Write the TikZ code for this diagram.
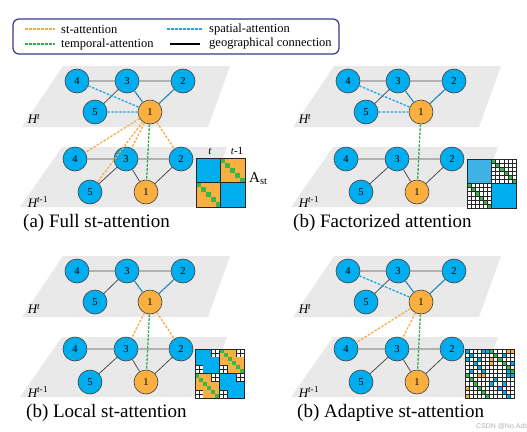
\documentclass[tikz,border=0pt]{standalone}
\usepackage{fontspec}
\setmainfont{Liberation Serif}
\newfontfamily\wmfont{Liberation Sans}
\usepackage{tikz}
\usetikzlibrary{positioning}

\definecolor{nblue}{RGB}{0,174,239}
\definecolor{nlblue}{RGB}{62,178,228}
\definecolor{norange}{RGB}{250,176,64}
\definecolor{ngreen}{RGB}{58,181,74}
\definecolor{dorange}{RGB}{246,172,70}
\definecolor{dblue}{RGB}{30,168,230}
\definecolor{dgreen}{RGB}{52,172,72}
\definecolor{planegray}{RGB}{233,233,233}
\definecolor{legendblue}{RGB}{52,56,140}

% two layers (H^t above, H^{t-1} below) of one panel
\newcommand{\stgraph}[3]{%
\begin{scope}[shift={(#2,#3)}]
  \fill[planegray] (63,66) -- (230,66) -- (208,127) -- (22,127) -- cycle;
  \fill[planegray] (62,147) -- (227,147) -- (205,207) -- (20,207) -- cycle;
  \node[layer] (#1ht) at (34,119) {\textit{H\textsuperscript{t}}};
  \node[layer] (#1htm) at (38,202) {\textit{H\textsuperscript{t-}}\textsuperscript{1}};
  % layer t
  \node[bnode] (#1u4) at (77,81) {4};
  \node[bnode] (#1u3) at (127,81) {3};
  \node[bnode] (#1u2) at (183,81) {2};
  \node[bnode] (#1u5) at (95,112) {5};
  \node[onode] (#1u1) at (150,112) {1};
  % layer t-1
  \node[bnode] (#1l4) at (75,159) {4};
  \node[bnode] (#1l3) at (126,159) {3};
  \node[bnode] (#1l2) at (181,159) {2};
  \node[bnode] (#1l5) at (90,192) {5};
  \node[onode] (#1l1) at (146,192) {1};
  \draw[geo] (#1u4) -- (#1u3) (#1u3) -- (#1u2) (#1u3) -- (#1u5)
             (#1u3) -- (#1u1) (#1u1) -- (#1u2);
  \draw[geo] (#1l4) -- (#1l3) (#1l3) -- (#1l2) (#1l3) -- (#1l5)
             (#1l3) -- (#1l1) (#1l1) -- (#1l2);
\end{scope}}

\begin{document}
\begin{tikzpicture}[
    x=1pt, y=-1pt,
    bnode/.style={circle, draw=black!75, line width=0.6pt, fill=nblue, minimum size=24pt, inner sep=0pt, font=\fontsize{10.5}{12}\selectfont},
    onode/.style={bnode, fill=norange},
    geo/.style={draw=black!70, line width=0.8pt},
    sp/.style={draw=dblue, line width=1.3pt, dash pattern=on 2.5pt off 1.5pt},
    st/.style={draw=dorange, line width=1.3pt, dash pattern=on 2.5pt off 1.5pt},
    tp/.style={draw=dgreen, line width=1.3pt, dash pattern=on 2.5pt off 1.5pt},
    layer/.style={font=\fontsize{13}{15}\selectfont},
    legtext/.style={anchor=west, inner sep=0pt, font=\fontsize{12.5}{14}\selectfont},
    caption/.style={anchor=west, inner sep=0pt, font=\fontsize{19}{22}\selectfont},
    gridcell/.style={draw=black!85, fill=white, line width=0.35pt},
    gridline/.style={draw=black!85, line width=0.35pt},
    matframe/.style={draw=black!85, line width=0.8pt}
]
\useasboundingbox (0,0) rectangle (527,431);

% Legend
\draw[legendblue, line width=1.2pt, rounded corners=6pt] (13,19) rectangle (339,54);
\coordinate (k1a) at (25,29);  \coordinate (k1b) at (55,29);
\coordinate (k2a) at (167,29); \coordinate (k2b) at (202,29);
\coordinate (k3a) at (25,44);  \coordinate (k3b) at (55,44);
\coordinate (k4a) at (170,44); \coordinate (k4b) at (200,44);
\draw[st] (k1a) -- (k1b);
\draw[sp] (k2a) -- (k2b);
\draw[tp] (k3a) -- (k3b);
\draw[draw=black, line width=1.2pt] (k4a) -- (k4b);
\node[legtext] (l1) at (61,29) {st-attention};
\node[legtext] (l2) at (209,29) {spatial-attention};
\node[legtext] (l3) at (61,44) {temporal-attention};
\node[legtext] (l4) at (209,44) {geographical connection};

% (a) Full st-attention
\stgraph{a}{0}{0}
\draw[sp] (au4) -- (au1) (au5) -- (au1) (au3) -- (au1) (au1) -- (au2);
\draw[st] (au1) -- (al4) (au1) -- (al3) (au1) -- (al5) (au1) -- (al2);
\draw[tp] (au1) -- (al1);
\begin{scope}[shift={(196,158)}]
  \def\cs{4.9}
  \fill[nblue] (0,0) rectangle (5*\cs,5*\cs);
  \fill[nblue] (5*\cs,5*\cs) rectangle (10*\cs,10*\cs);
  \fill[norange] (5*\cs,0) rectangle (10*\cs,5*\cs);
  \fill[norange] (0,5*\cs) rectangle (5*\cs,10*\cs);
  \foreach \k in {0,...,4}{
    \fill[ngreen] (5*\cs+\k*\cs,\k*\cs) rectangle ++(\cs,\cs);
    \fill[ngreen] (\k*\cs,5*\cs+\k*\cs) rectangle ++(\cs,\cs);
  }
  \draw[matframe] (0,0) rectangle (10*\cs,10*\cs);
  \draw[matframe] (5*\cs,0) -- (5*\cs,10*\cs) (0,5*\cs) -- (10*\cs,5*\cs);
  \node[font=\fontsize{11}{12}\selectfont] (tcur) at (14,-7) {\textit{t}};
  \node[font=\fontsize{11}{12}\selectfont] (tprev) at (41,-7) {\textit{t}-1};
  \node[anchor=west, inner sep=0pt, font=\fontsize{15}{17}\selectfont] (ast) at (53,21) {A\textsubscript{st}};
\end{scope}
\node[caption] (capa) at (23,223) {(a) Full st-attention};

% (b) Factorized attention
\stgraph{b}{271}{0}
\draw[sp] (bu4) -- (bu1) (bu5) -- (bu1) (bu3) -- (bu1) (bu1) -- (bu2);
\draw[tp] (bu1) -- (bl1);
\begin{scope}[shift={(467,159)}]
  \def\cs{4.0833}
  \fill[nlblue] (0,0) rectangle (6*\cs,6*\cs);
  \fill[nblue] (6*\cs,6*\cs) rectangle (12*\cs,12*\cs);
  \fill[white] (6*\cs,0) rectangle (12*\cs,6*\cs);
  \fill[white] (0,6*\cs) rectangle (6*\cs,12*\cs);
  \foreach \k in {0,...,5}{
    \fill[ngreen] (6*\cs+\k*\cs,\k*\cs) rectangle ++(\cs,\cs);
    \fill[ngreen] (\k*\cs,6*\cs+\k*\cs) rectangle ++(\cs,\cs);
  }
  \foreach \k in {0,...,6}{
    \draw[gridline] (6*\cs+\k*\cs,0) -- ++(0,6*\cs);
    \draw[gridline] (6*\cs,\k*\cs) -- ++(6*\cs,0);
    \draw[gridline] (\k*\cs,6*\cs) -- ++(0,6*\cs);
    \draw[gridline] (0,6*\cs+\k*\cs) -- ++(6*\cs,0);
  }
  \draw[matframe] (0,0) rectangle (12*\cs,12*\cs);
  \draw[matframe] (6*\cs,0) -- (6*\cs,12*\cs) (0,6*\cs) -- (12*\cs,6*\cs);
\end{scope}
\node[caption] (capb) at (293,223) {(b) Factorized attention};

% (c) Local st-attention
\stgraph{c}{0}{190}
\draw[sp] (cu3) -- (cu1) (cu1) -- (cu2);
\draw[st] (cu1) -- (cl3) (cu1) -- (cl2);
\draw[tp] (cu1) -- (cl1);
\begin{scope}[shift={(195,349)}]
  \def\cs{4.0833}
  \foreach \i in {0,...,11}{
    \foreach \j in {0,...,11}{
      \pgfmathtruncatemacro{\mr}{mod(\i,6)}
      \pgfmathtruncatemacro{\mc}{mod(\j,6)}
      \pgfmathtruncatemacro{\msame}{div(\i,6)==div(\j,6)}
      \pgfmathtruncatemacro{\mcorner}{or(and(\mr<2,\mc>3),and(\mr>3,\mc<2))}
      \ifnum\mcorner=1
        \draw[gridcell] (\j*\cs,\i*\cs) rectangle ++(\cs,\cs);
      \else\ifnum\msame=1
        \fill[nblue] (\j*\cs,\i*\cs) rectangle ++(\cs,\cs);
      \else\ifnum\mr=\mc
        \fill[ngreen] (\j*\cs,\i*\cs) rectangle ++(\cs,\cs);
      \else
        \fill[norange] (\j*\cs,\i*\cs) rectangle ++(\cs,\cs);
      \fi\fi\fi
    }
  }
  \draw[matframe] (0,0) rectangle (12*\cs,12*\cs);
  \draw[matframe] (6*\cs,0) -- (6*\cs,12*\cs) (0,6*\cs) -- (12*\cs,6*\cs);
\end{scope}
\node[caption] (capc) at (26,413) {(b) Local st-attention};

% (d) Adaptive st-attention
\stgraph{d}{271}{190}
\draw[sp] (du4) -- (du1) (du3) -- (du1) (du1) -- (du2);
\draw[st] (du1) -- (dl4) (du1) -- (dl3);
\draw[tp] (du1) -- (dl1);
\begin{scope}[shift={(465,349)}]
  \def\cs{4.0833}
  \fill[white] (0,0) rectangle (12*\cs,12*\cs);
  \foreach \r/\c/\col in {0/0/nblue, 0/4/nblue, 0/5/nblue, 0/6/ngreen, 0/10/norange, 0/11/norange,
      1/1/nblue, 1/7/ngreen, 1/9/nblue, 2/0/nblue, 2/3/nblue, 2/6/norange, 2/8/ngreen,
      3/2/nblue, 3/6/norange, 3/9/ngreen, 3/11/nblue, 4/3/nblue, 4/10/ngreen,
      5/1/nblue, 5/4/nblue, 5/10/nblue, 5/11/ngreen, 6/0/ngreen, 6/3/norange, 6/4/norange,
      6/10/nblue, 6/11/nblue, 7/1/ngreen, 7/7/nblue, 8/2/ngreen, 8/6/nblue, 8/9/nblue,
      9/0/norange, 9/3/ngreen, 9/8/nblue, 10/4/ngreen, 10/9/nblue, 11/0/norange,
      11/5/ngreen, 11/10/nblue}
    \fill[\col] (\c*\cs,\r*\cs) rectangle ++(\cs,\cs);
  \foreach \k in {0,...,12}{
    \draw[gridline] (\k*\cs,0) -- ++(0,12*\cs);
    \draw[gridline] (0,\k*\cs) -- ++(12*\cs,0);
  }
  \draw[matframe] (0,0) rectangle (12*\cs,12*\cs);
  \draw[matframe] (6*\cs,0) -- (6*\cs,12*\cs) (0,6*\cs) -- (12*\cs,6*\cs);
\end{scope}
\node[caption] (capd) at (297,413) {(b) Adaptive st-attention};
\node[text=black!30, inner sep=0pt, font=\wmfont\fontsize{7}{8}\selectfont] (wm) at (502,426.5) {CSDN @No.Ads};

\end{tikzpicture}
\end{document}
